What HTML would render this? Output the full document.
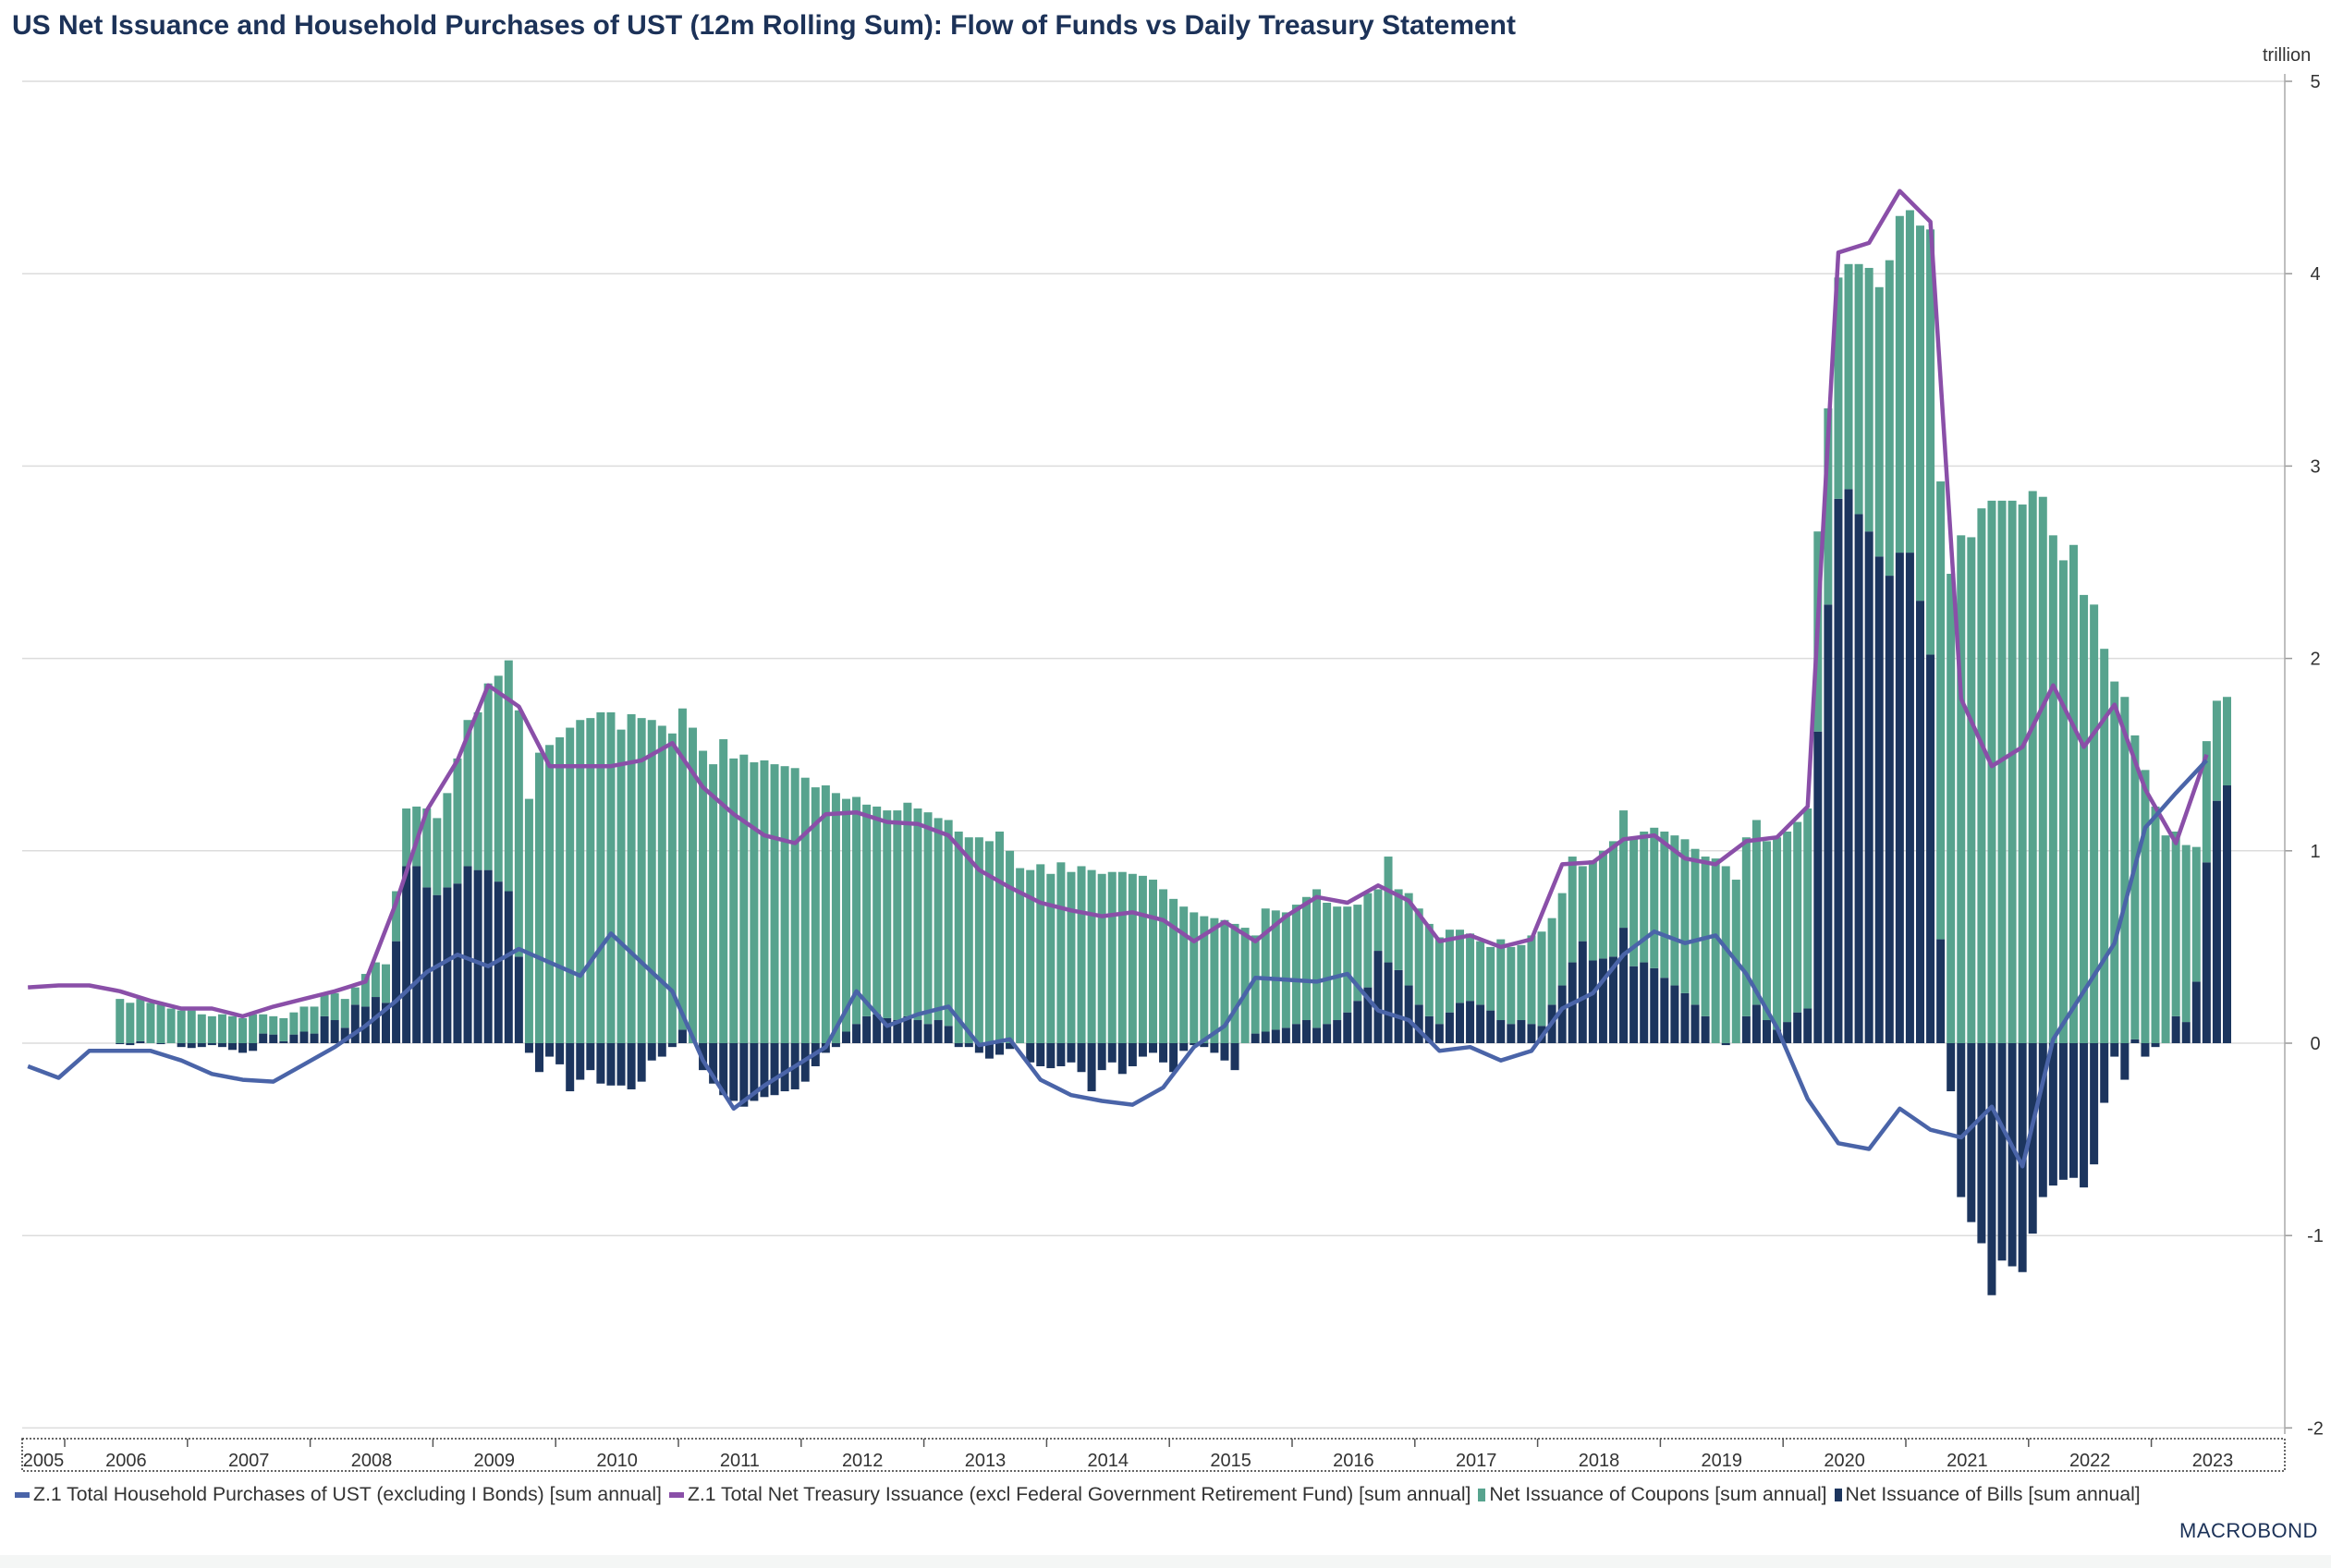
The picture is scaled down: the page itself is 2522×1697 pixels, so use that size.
<!DOCTYPE html>
<html><head><meta charset="utf-8"><style>
body{margin:0;background:#fff;font-family:"Liberation Sans",Arial,sans-serif;}
#wrap{position:relative;width:2522px;height:1697px;overflow:hidden;background:#fff;}
#title{position:absolute;left:13px;top:11px;font-size:30px;font-weight:bold;color:#1c3258;white-space:nowrap;}
#legend{position:absolute;left:16px;top:1606px;font-size:21.2px;color:#333;white-space:nowrap;display:flex;gap:8px;}
.li{display:flex;align-items:center;gap:4px;}
.mk{display:inline-block;width:16px;height:6px;}
#logo{position:absolute;left:2358px;top:1644px;font-size:22px;color:#1c3258;letter-spacing:0.5px;}
#foot{position:absolute;left:0;top:1683px;width:2522px;height:14px;background:#f4f6f5;}
</style></head><body>
<div id="wrap">
<div id="title">US Net Issuance and Household Purchases of UST (12m Rolling Sum): Flow of Funds vs Daily Treasury Statement</div>
<svg id="chart" width="2522" height="1697" style="position:absolute;left:0;top:0"></svg>
<div id="legend">
<span class="li"><span class="mk" style="background:#4a64a8"></span>Z.1 Total Household Purchases of UST (excluding I Bonds) [sum annual]</span>
<span class="li"><span class="mk" style="background:#8a4fa8"></span>Z.1 Total Net Treasury Issuance (excl Federal Government Retirement Fund) [sum annual]</span>
<span class="li"><span class="mk" style="background:#57a38e;width:8px;height:14px"></span>Net Issuance of Coupons [sum annual]</span>
<span class="li"><span class="mk" style="background:#1c355e;width:8px;height:14px"></span>Net Issuance of Bills [sum annual]</span>
</div>
<div id="logo">MACROBOND</div>
<div id="foot"></div>
</div>
<script>
const yTicks=[5,4,3,2,1,0,-1,-2];
const yearLabels=[2005,2006,2007,2008,2009,2010,2011,2012,2013,2014,2015,2016,2017,2018,2019,2020,2021,2022,2023];
const barStart=2006.45;
const bills=[-.005,-.01,.01,0,-.005,0,-.02,
-.025,-.02,-.01,-.02,-.035,-.05,-.04,
.05,.045,.01,.045,.06,.05,
.14,.12,.08,.2,.19,.24,.21,
.53,.92,.92,.81,.77,.81,.83,.92,.9,.9,.84,.79,.45,
-.05,-.15,-.07,-.11,-.25,-.19,-.14,-.21,-.22,-.22,-.24,-.2,-.09,-.07,-.02,
.07,0,-.14,-.21,-.27,-.3,
-.33,-.3,-.28,-.27,-.25,-.24,
-.2,-.12,-.05,-.02,.06,.1,.14,.15,.13,.12,.14,.12,
.1,.12,.09,-.02,-.02,-.05,-.08,-.06,-.03,0,-.1,-.12,
-.13,-.12,-.1,-.15,-.25,-.14,-.1,-.16,-.12,-.07,-.05,-.1,
-.15,-.04,-.01,-.02,-.05,-.09,-.14,0,.05,.06,.07,.08,
.1,.12,.08,.1,.12,.16,.22,.29,.48,.42,.38,.3,
.2,.14,.1,.16,.21,.22,.2,.17,.12,.1,.12,.1,
.09,.2,.3,.42,.53,.43,.44,.45,.6,.4,.42,.39,
.34,.3,.26,.2,.14,0,-.01,
0,
.14,.2,.12,.07,.11,.16,.18,
1.62,2.28,2.83,2.88,2.75,2.66,2.53,2.43,2.55,2.55,2.3,2.02,.54,
-.25,-.8,-.93,-1.04,-1.31,-1.13,-1.16,-1.19,-.99,-.8,-.74,-.71,-.7,-.75,-.63,-.31,-.07,-.19,
.02,
-.07,-.02,0,
.14,.11,.32,.94,1.26,1.34];
const coupons=[.23,.21,.22,.21,.2,.18,.17,
.17,.15,.14,.15,.14,.13,.15,
.1,.095,.12,.115,.13,.14,
.11,.14,.15,.09,.17,.18,.2,
.26,.3,.31,.41,.4,.49,.65,.76,.82,.97,1.07,1.2,1.28,
1.27,1.51,1.55,1.59,1.64,1.68,1.69,1.72,1.72,1.63,1.71,1.69,1.68,1.65,1.61,
1.67,1.64,1.52,1.45,1.58,1.48,
1.5,1.46,1.47,1.45,1.44,1.43,
1.38,1.33,1.34,1.3,1.21,1.18,1.1,1.08,1.08,1.09,1.11,1.1,
1.1,1.05,1.07,1.1,1.07,1.07,1.05,1.1,1,.91,.9,.93,
.88,.94,.89,.92,.9,.88,.89,.89,.88,.87,.85,.8,
.75,.71,.68,.66,.65,.64,.62,.6,.51,.64,.62,.6,
.62,.64,.72,.63,.59,.55,.5,.49,.32,.55,.42,.48,
.5,.48,.45,.43,.38,.35,.33,.33,.42,.4,.39,.46,
.49,.45,.48,.55,.39,.52,.56,.6,.61,.67,.68,.73,
.76,.78,.8,.81,.83,.96,.92,
.85,
.93,.96,.93,1,.99,.99,1.04,
1.04,1.02,1.15,1.17,1.3,1.37,1.4,1.64,1.75,1.78,1.95,2.21,2.38,
2.44,2.64,2.63,2.78,2.82,2.82,2.82,2.8,2.87,2.84,2.64,2.51,2.59,2.33,2.28,2.05,1.88,1.8,
1.58,
1.42,1.23,1.08,
.96,.92,.7,.63,.52,.46];
const lineStart=2005.7;
const household=[-.12,-.18,-.04,-.04,-.04,-.09,-.16,-.19,-.2,-.11,-.02,
.09,.22,.37,.46,.4,.49,.42,.35,.57,.42,.27,-.09,-.34,-.22,-.12,-.02,.27,.09,.15,.19,-.01,.02,-.19,-.27,-.3,-.32,-.23,-.02,.09,.34,.33,.32,.36,.17,.12,-.04,-.02,-.09,-.04,.18,.26,.46,.58,.52,.56,.36,.08,-.29,-.52,-.55,-.34,-.45,-.49,-.33,-.64,.02,.27,.52,1.12,1.3,1.47];
const issuance=[.29,.3,.3,.27,.22,.18,.18,.14,.19,.23,.27,
.32,.73,1.21,1.47,1.86,1.75,1.44,1.44,1.44,1.47,1.56,1.33,1.19,1.08,1.04,1.19,1.2,1.15,1.14,1.08,.9,.81,.73,.69,.66,.68,.64,.53,.63,.53,.66,.76,.73,.82,.74,.53,.56,.5,.54,.93,.94,1.06,1.08,.96,.93,1.05,1.07,1.23,4.11,4.16,4.43,4.27,1.79,1.44,1.54,1.86,1.54,1.76,1.32,1.04,1.5];

const NS='http://www.w3.org/2000/svg';
const svg=document.getElementById('chart');
const L=24,R=2472;
function X(t){return 70+(t-2006)*132.8;}
function Y(v){return 1129-v*208.2;}
function mk(tag,attrs,parent){const e=document.createElementNS(NS,tag);for(const k in attrs)e.setAttribute(k,attrs[k]);(parent||svg).appendChild(e);return e;}
yTicks.forEach(v=>{
  const g=mk('line',{x1:L,x2:R,y1:Y(v),y2:Y(v),stroke:'#dcdcdc','stroke-width':1.5});
  
  
  const tk=mk('line',{x1:R,x2:R+8,y1:Y(v),y2:Y(v),stroke:'#999','stroke-width':1.5});
  
  
  const t=mk('text',{x:2505,y:Y(v)+7,'font-size':20,fill:'#333','text-anchor':'middle','font-family':'Liberation Sans, sans-serif'});
  t.textContent=v;
  
  
});
const ax=mk('line',{x1:R,x2:R,y1:80,y2:1552,stroke:'#aaa','stroke-width':1.5});


const unit=mk('text',{x:2448,y:66,'font-size':20,fill:'#333','font-family':'Liberation Sans, sans-serif'});
unit.textContent='trillion';


const bw=9;
const n=Math.min(bills.length,coupons.length);
for(let i=0;i<n;i++){
  const cx=X(barStart+i/12);
  const b=bills[i],c=coupons[i];
  let pos=0,neg=0;
  const parts=[[b,'#1c355e','bar-bills'],[c,'#57a38e','bar-coupons']];
  parts.forEach(p=>{
    const v=p[0];let y0,y1;
    if(v>=0){y0=Y(pos+v);y1=Y(pos);pos+=v;}else{y0=Y(neg);y1=Y(neg+v);neg+=v;}
    const r=mk('rect',{x:cx-bw/2,y:y0,width:bw,height:Math.max(0,y1-y0),fill:p[1]});
    
    
  });
}
function line(arr,col,name){
  const pts=arr.map((v,i)=>X(lineStart+i*0.25).toFixed(1)+','+Y(v).toFixed(1)).join(' ');
  const p=mk('polyline',{points:pts,fill:'none',stroke:col,'stroke-width':4.5,'stroke-linejoin':'round'});
  
  
}
line(issuance,'#8a4fa8','line-net-treasury-issuance');
line(household,'#4a64a8','line-household-purchases');
const box=mk('rect',{x:L,y:1557,width:R-L,height:35,fill:'none',stroke:'#333','stroke-width':1.5,'stroke-dasharray':'2,2'});


yearLabels.forEach(yr=>{
  const x0=X(yr);
  if(x0>L){
    const tk=mk('line',{x1:x0,x2:x0,y1:1557,y2:1566,stroke:'#555','stroke-width':1.5});
    
    
  }
  let cx=X(yr+0.5);
  if(yr===2005)cx=47;
  const t=mk('text',{x:cx,y:1587,'font-size':20,fill:'#333','text-anchor':'middle','font-family':'Liberation Sans, sans-serif'});
  t.textContent=yr;
  
  
});
</script>
</body></html>
